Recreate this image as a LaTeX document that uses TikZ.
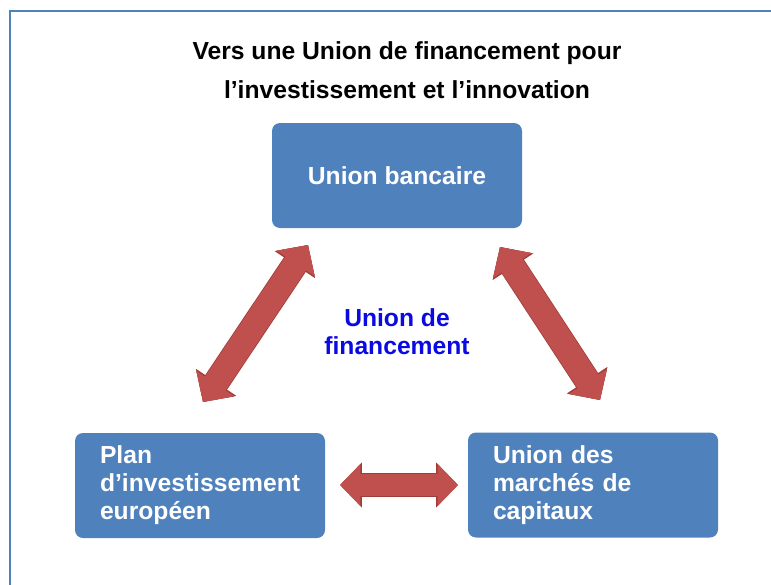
\documentclass[tikz,border=0pt]{standalone}
\usepackage{fontspec}
\setmainfont{Liberation Sans}
\usetikzlibrary{arrows.meta}
\definecolor{boxblue}{RGB}{79,129,189}
\definecolor{arrowred}{RGB}{192,80,77}
\definecolor{arrowedge}{RGB}{160,60,57}
\definecolor{textblue}{RGB}{10,10,225}
\tikzset{
  box/.style={rectangle, rounded corners=6pt, fill=boxblue, text=white,
    minimum width=187.5pt, minimum height=78.75pt, inner xsep=18.75pt,
    font=\fontsize{18.5}{21}\selectfont\bfseries},
  boxleft/.style={align=left, text width=150pt},
  fatarrow/.style={arrowred, line width=17pt,
    {Triangle[length=0pt 0.9, width=0pt 1.8]}-{Triangle[length=0pt 0.9, width=0pt 1.8]},
    preaction={draw=arrowedge, line width=18.2pt}},
  fatdiag/.style={fatarrow, line width=18.5pt, preaction={draw=arrowedge, line width=19.7pt}}
}
\begin{document}
\begin{tikzpicture}[x=0.75pt, y=-0.75pt]
\useasboundingbox (0,0) rectangle (771,585);
\draw[boxblue, line width=1.5pt] (10,585) -- (10,11) -- (771,11);
\node[align=center, font=\fontsize{18.5}{29}\selectfont\bfseries] (title) at (407,70){Vers une Union de financement pour\\l’investissement et l’innovation};
\node[box, align=center] (ub) at (397,175.5){Union bancaire};
\node[box, boxleft] (pie) at (200,485.5){Plan\\d’investissement\\européen};
\node[box, boxleft] (umc) at (593,485){Union des\\marchés de\\capitaux};
\node[align=center, text=textblue, font=\fontsize{18.5}{21}\selectfont\bfseries] (uf) at (397,332){Union de\\financement};
\coordinate (l1) at (203,402);
\coordinate (l2) at (308,245);
\coordinate (r1) at (500,247);
\coordinate (r2) at (600,400);
\coordinate (h1) at (340,485);
\coordinate (h2) at (458,485);
\draw[fatdiag] (l1) -- (l2);
\draw[fatdiag] (r1) -- (r2);
\draw[fatarrow] (h1) -- (h2);
\end{tikzpicture}
\end{document}
